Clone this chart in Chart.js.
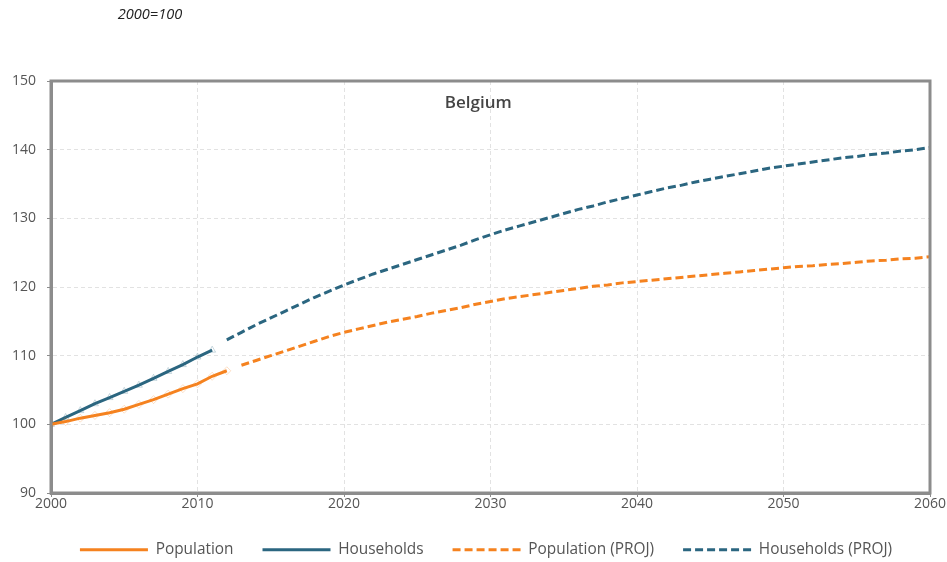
<!DOCTYPE html>
<html><head><meta charset="utf-8">
<script src="https://cdn.jsdelivr.net/npm/chart.js@4"></script>
<style>html,body{margin:0;padding:0;overflow:hidden;background:#fff}</style>
</head><body>
<canvas id="c" width="972" height="562" style="display:block;width:972px;height:562px"></canvas>
<script>
// ---- data (2000 = 100) ----
const popYears = [2000,2001,2002,2003,2004,2005,2006,2007,2008,2009,2010,2011,2012];
const population = [100,100.4,100.9,101.3,101.7,102.2,102.9,103.6,104.4,105.2,105.9,107.0,107.8];

const hhYears = [2000,2001,2002,2003,2004,2005,2006,2007,2008,2009,2010,2011];
const households = [100,101.0,102.0,103.0,103.9,104.8,105.7,106.7,107.7,108.7,109.8,110.8];

const popProjYears = [2013,2014,2015,2016,2017,2018,2019,2020,2021,2022,2023,2024,2025,2026,2027,2028,2029,2030,
  2031,2032,2033,2034,2035,2036,2037,2038,2039,2040,2041,2042,2043,2044,2045,2046,2047,2048,2049,2050,
  2051,2052,2053,2054,2055,2056,2057,2058,2059,2060];
const populationProj = [108.6,109.3,110.0,110.7,111.4,112.1,112.8,113.4,113.9,114.4,114.9,115.3,115.7,116.2,116.6,117.0,117.5,117.9,
  118.3,118.6,118.9,119.2,119.5,119.8,120.1,120.3,120.6,120.8,121.0,121.2,121.4,121.6,121.8,122.0,122.2,122.4,122.6,122.8,
  123.0,123.1,123.3,123.4,123.6,123.8,123.9,124.1,124.2,124.4];

const hhProjYears = [2012,2013,2014,2015,2016,2017,2018,2019,2020,2021,2022,2023,2024,2025,2026,2027,2028,2029,2030,
  2031,2032,2033,2034,2035,2036,2037,2038,2039,2040,2041,2042,2043,2044,2045,2046,2047,2048,2049,2050,
  2051,2052,2053,2054,2055,2056,2057,2058,2059,2060];
const householdsProj = [112.3,113.4,114.5,115.5,116.5,117.5,118.5,119.4,120.3,121.1,121.9,122.6,123.3,124.0,124.7,125.4,126.1,126.9,127.6,
  128.3,128.9,129.5,130.1,130.7,131.3,131.8,132.4,132.9,133.4,133.9,134.4,134.8,135.3,135.7,136.1,136.5,136.9,137.3,137.6,
  137.9,138.2,138.5,138.8,139.0,139.3,139.5,139.8,140.0,140.3];

const seriesNames = ['Population','Households','Population (PROJ)','Households (PROJ)'];
const xTickValues = [2000,2010,2020,2030,2040,2050,2060];
const yTickValues = [90,100,110,120,130,140,150];
const chartTitle = 'Belgium';
const unitNote = '2000=100';

// ---- styling ----
const ORANGE = '#F5821F';
const TEAL = '#2B6680';
const FONT = "'Open Sans', sans-serif";
const TXT = '#555555';

const pts = (xs, ys) => xs.map((x, i) => ({x, y: ys[i]}));

const framePlugin = {
  id: 'frameAndTexts',
  afterDatasetsDraw(chart) {
    const {ctx, chartArea: a} = chart;
    ctx.save();
    ctx.strokeStyle = '#8c8c8c';
    ctx.lineWidth = 3;
    ctx.strokeRect(a.left, a.top, a.right - a.left, a.bottom - a.top);
    ctx.restore();
  },
  afterDraw(chart) {
    const {ctx, chartArea: a} = chart;
    ctx.save();
    ctx.fillStyle = '#444444';
    ctx.font = "600 17px " + FONT;
    ctx.textAlign = 'center';
    ctx.textBaseline = 'middle';
    ctx.fillText(chartTitle, a.left + (a.right - a.left) * 0.486, a.top + 22);
    ctx.fillStyle = '#222222';
    ctx.font = "italic 14.6px " + FONT;
    ctx.fillText(unitNote, 150, 15);
    ctx.restore();
  }
};

new Chart(document.getElementById('c'), {
  type: 'line',
  data: {
    datasets: [
      { label: seriesNames[0], data: pts(popYears, population), borderColor: ORANGE, backgroundColor: ORANGE,
        borderWidth: 3, pointStyle: 'rectRot', pointRadius: 4, pointBorderWidth: 1,
        pointBorderColor: 'rgba(245,130,31,0.25)', pointBackgroundColor: 'rgba(0,0,0,0)', tension: 0 },
      { label: seriesNames[1], data: pts(hhYears, households), borderColor: TEAL, backgroundColor: TEAL,
        borderWidth: 3, pointStyle: 'triangle', pointRadius: 4, pointBorderWidth: 1,
        pointBorderColor: 'rgba(43,102,128,0.25)', pointBackgroundColor: 'rgba(0,0,0,0)', tension: 0 },
      { label: seriesNames[2], data: pts(popProjYears, populationProj), borderColor: ORANGE, backgroundColor: ORANGE,
        borderWidth: 3, borderDash: [8, 4], pointRadius: 0, tension: 0 },
      { label: seriesNames[3], data: pts(hhProjYears, householdsProj), borderColor: TEAL, backgroundColor: TEAL,
        borderWidth: 3, borderDash: [8, 4], pointRadius: 0, tension: 0 }
    ]
  },
  options: {
    responsive: false,
    animation: false,
    devicePixelRatio: 1,
    layout: { padding: { top: 81, left: 0, right: 0, bottom: 0 } },
    plugins: {
      title: { display: false },
      tooltip: { enabled: false },
      legend: {
        position: 'bottom',
        maxHeight: 49,
        labels: {
          usePointStyle: true,
          pointStyle: 'line',
          pointStyleWidth: 68,
          boxHeight: 15,
          padding: 29,
          color: TXT,
          font: { family: FONT, size: 15.4 },
          generateLabels(chart) {
            const items = Chart.defaults.plugins.legend.labels.generateLabels(chart);
            items.forEach(it => {
              const ds = chart.data.datasets[it.datasetIndex];
              it.strokeStyle = ds.borderColor;
              it.fillStyle = ds.borderColor;
              it.lineDash = ds.borderDash || [];
              it.lineWidth = 3;
              it.lineCap = 'butt';
              it.pointStyle = 'line';
            });
            return items;
          }
        }
      }
    },
    scales: {
      x: {
        type: 'linear',
        min: xTickValues[0], max: xTickValues[xTickValues.length - 1],
        afterBuildTicks(s) { s.ticks = xTickValues.map(v => ({value: v})); },
        afterFit(s) { s.height = 20; },
        ticks: { color: TXT, padding: 0, font: { family: FONT, size: 14, lineHeight: 1 }, maxRotation: 0,
                 callback: v => String(v) },
        grid: { color: '#e2e2e2', lineWidth: 1, tickLength: 4, tickColor: '#8c8c8c', drawTicks: true },
        border: { display: true, color: '#8c8c8c', width: 3, dash: [4, 3] }
      },
      y: {
        type: 'linear',
        min: yTickValues[0], max: yTickValues[yTickValues.length - 1],
        afterBuildTicks(s) { s.ticks = yTickValues.map(v => ({value: v})); },
        afterFit(s) { s.width = 51; },
        ticks: { color: TXT, padding: 11, font: { family: FONT, size: 14 }, callback: v => String(v) },
        grid: { color: '#e2e2e2', lineWidth: 1, tickLength: 4, tickColor: '#8c8c8c', drawTicks: true },
        border: { display: true, color: '#8c8c8c', width: 3, dash: [4, 3] }
      },
      y2: {
        type: 'linear', position: 'right', min: 0, max: 1,
        afterFit(s) { s.width = 42; },
        ticks: { display: false },
        grid: { display: false, drawTicks: false },
        border: { display: false }
      }
    }
  },
  plugins: [framePlugin]
});
</script>
</body></html>
